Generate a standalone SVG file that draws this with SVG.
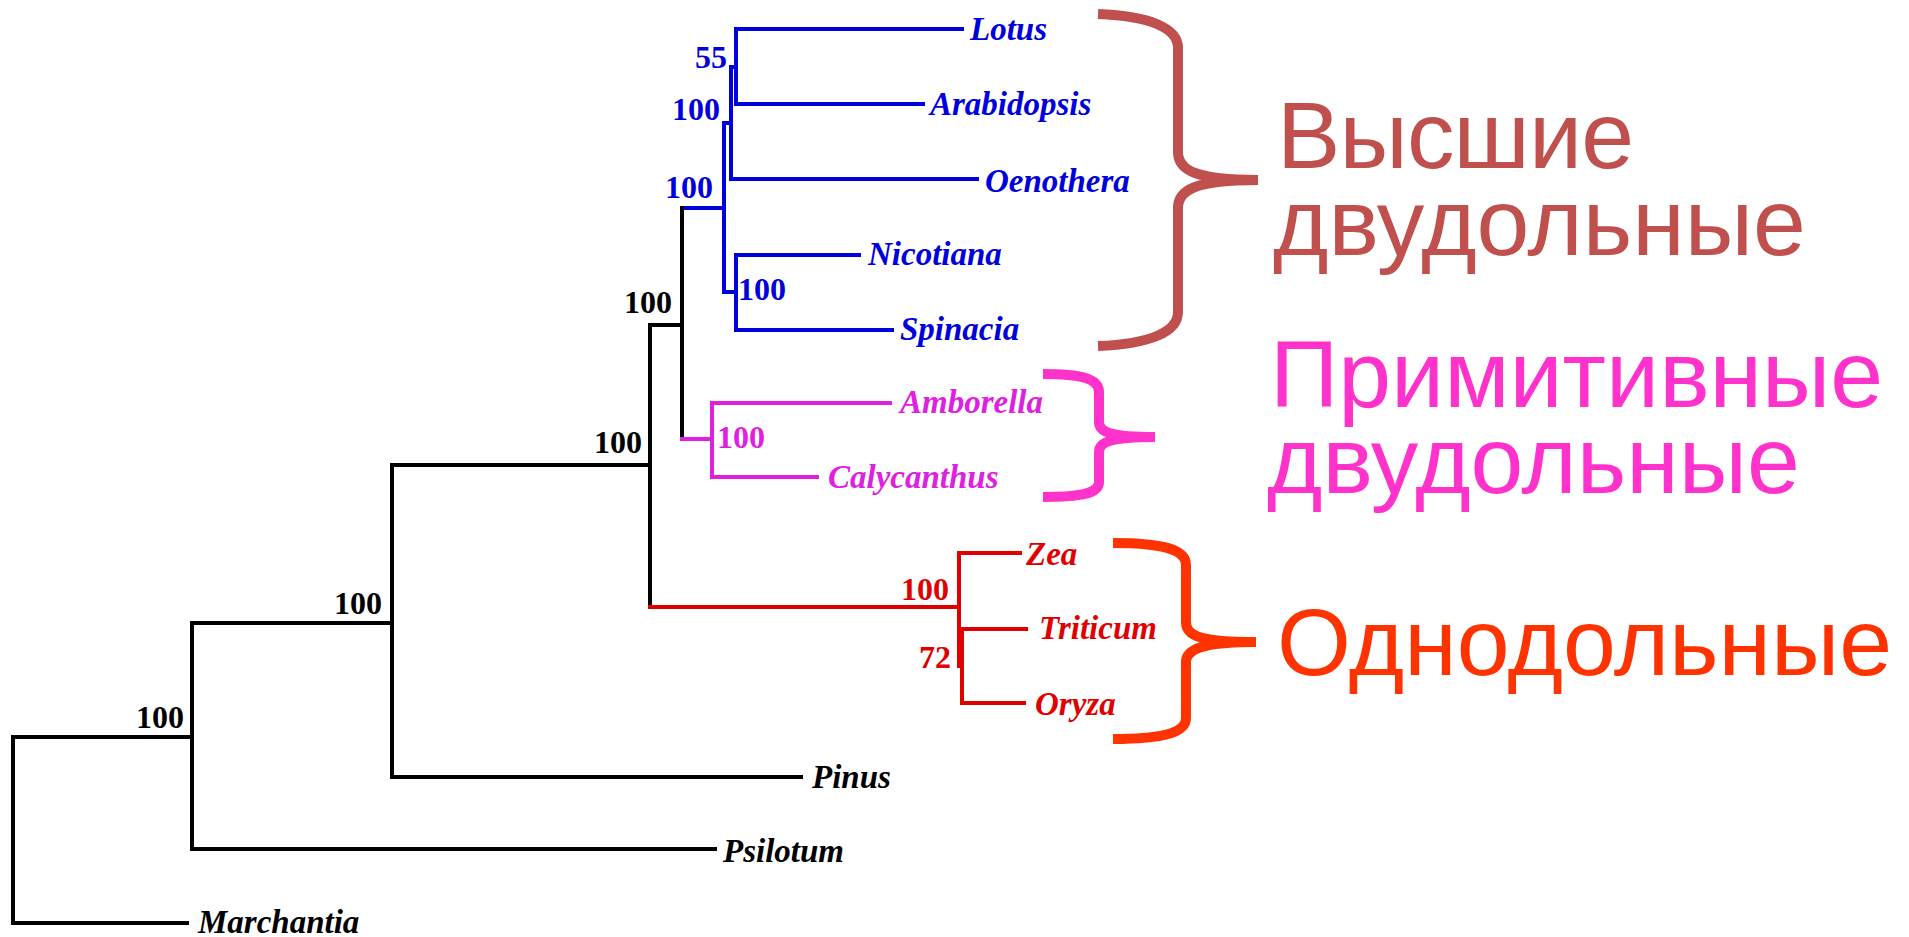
<svg xmlns="http://www.w3.org/2000/svg" width="1909" height="937" viewBox="0 0 1909 937">
<style>
.e{fill:none;stroke-width:4;stroke-linecap:square}
.k{stroke:#000}
.b{stroke:#0000DC}
.m{stroke:#E020E0}
.r{stroke:#E00000}
.sp{font-family:"Liberation Serif",serif;font-weight:bold;font-style:italic;font-size:33px}
.bs{font-family:"Liberation Serif",serif;font-weight:bold;font-size:32px}
.tb{fill:#0000DC}.tm{fill:#E020E0}.tr{fill:#E00000}.tk{fill:#000}
.br{fill:none;stroke-width:10}
.big{font-family:"Liberation Sans",Arial,sans-serif;font-size:95px}
</style>
<rect width="1909" height="937" fill="#fff"/>
<g id="connectors">
<path class="e b" d="M736,29H962M736,104H923M736,29V104M731,67H736M731,67V179M731,179H977M724,123H731M724,123V292M736,255V330M736,255H859M736,330H892M724,292H736M682,208H724"/>
<path class="e k" d="M682,208V439M650,325H682M650,325V607M392,465H650M392,465V777M392,777H801M192,623H392M192,623V849M192,849H715M13,737H192M13,737V923M13,923H187"/>
<path class="e m" d="M682,439H712M712,403V477M712,403H890M712,477H817"/>
<path class="e r" d="M650,607H959M959,553V666M959,553H1020M959,666H962M962,629V703M962,629H1026M962,703H1024"/>
</g>
<g id="n-lotus"><text class="sp tb" x="970" y="40">Lotus</text></g>
<g id="n-arabidopsis"><text class="sp tb" x="930" y="115">Arabidopsis</text></g>
<g id="n-oenothera"><text class="sp tb" x="985" y="192">Oenothera</text></g>
<g id="n-nicotiana"><text class="sp tb" x="868" y="265">Nicotiana</text></g>
<g id="n-spinacia"><text class="sp tb" x="900" y="340">Spinacia</text></g>
<g id="n-amborella"><text class="sp tm" x="900" y="413">Amborella</text></g>
<g id="n-calycanthus"><text class="sp tm" x="828" y="488">Calycanthus</text></g>
<g id="n-zea"><text class="sp tr" x="1026" y="565">Zea</text></g>
<g id="n-triticum"><text class="sp tr" x="1039" y="639">Triticum</text></g>
<g id="n-oryza"><text class="sp tr" x="1035" y="715">Oryza</text></g>
<g id="n-pinus"><text class="sp tk" x="812" y="788">Pinus</text></g>
<g id="n-psilotum"><text class="sp tk" x="723" y="862">Psilotum</text></g>
<g id="n-marchantia"><text class="sp tk" x="198" y="933">Marchantia</text></g>
<g id="support">
<text class="bs tb" x="727" y="68" text-anchor="end">55</text>
<text class="bs tb" x="720" y="120" text-anchor="end">100</text>
<text class="bs tb" x="713" y="198" text-anchor="end">100</text>
<text class="bs tb" x="738" y="300">100</text>
<text class="bs tk" x="672" y="313" text-anchor="end">100</text>
<text class="bs tm" x="717" y="448">100</text>
<text class="bs tk" x="642" y="453" text-anchor="end">100</text>
<text class="bs tr" x="949" y="600" text-anchor="end">100</text>
<text class="bs tr" x="951" y="668" text-anchor="end">72</text>
<text class="bs tk" x="382" y="614" text-anchor="end">100</text>
<text class="bs tk" x="184" y="728" text-anchor="end">100</text>
</g>
<g id="g-higher">
<path class="br" stroke="#C0504D" d="M1098,14 C1150,16 1178,28 1178,48 L1178,152 C1178,170 1195,180 1258,180 C1195,180 1178,190 1178,208 L1178,312 C1178,332 1150,344 1098,346"/>
<text class="big" fill="#C0504D" x="1277" y="168" textLength="357" lengthAdjust="spacing">Высшие</text>
<text class="big" fill="#C0504D" x="1273" y="255">двудольные</text>
</g>
<g id="g-primitive">
<path class="br" stroke="#FF33CC" d="M1043,374 C1080,374 1099,378 1099,392 L1099,422 C1099,432 1110,437 1155,437 C1110,437 1099,442 1099,452 L1099,482 C1099,494 1080,497 1043,497"/>
<text class="big" fill="#FF33CC" x="1270" y="407">Примитивные</text>
<text class="big" fill="#FF33CC" x="1267" y="493">двудольные</text>
</g>
<g id="g-mono">
<path class="br" stroke="#FF3300" d="M1113,543 C1165,543 1186,550 1186,565 L1186,622 C1186,636 1200,642 1256,642 C1200,642 1186,650 1186,662 L1186,718 C1186,732 1165,739 1113,739"/>
<text class="big" fill="#FF3300" x="1277" y="675">Однодольные</text>
</g>
</svg>
